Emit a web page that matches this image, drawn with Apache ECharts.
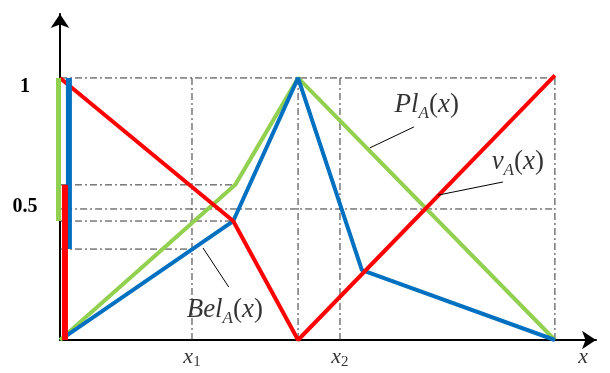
<!DOCTYPE html>
<html>
<head>
<meta charset="utf-8">
<script src="https://cdn.jsdelivr.net/npm/echarts@6/dist/echarts.min.js"></script>
<style>
  html, body { margin: 0; background: #fff; }
  #chart { width: 610px; height: 373px; }
</style>
</head>
<body>
<div id="chart"></div>
<script>
// curves, x in arbitrary units (right end = 10), y in [0, 1]
var greenLine = [[0, 0], [3.54, 0.592], [4.81, 1.0], [10, 0]]
var blueLine = [[0.08, 0.01], [3.5, 0.454], [4.81, 1.0], [6.1, 0.267], [10, 0]]
var redLine = [[0, 1], [3.5, 0.454], [4.81, 0], [10, 1.01]]
// interval bars at x = 0
var greenBar = [[-0.05, 1], [-0.05, 0.454]]
var blueBar = [[0.18, 1], [0.18, 0.347]]
var redBar = [[0.1, 0.592], [0.1, 0]]
// dash-dot guides: [xFrom, xTo, y] and [x, yFrom, yTo]
var guideH = [[0, 2.667, 0.347], [0, 3.5, 0.454], [-0.2, 10, 0.5], [0, 3.54, 0.592], [0, 10, 1.0]]
var guideV = [[2.667, 0, 1.0], [4.81, 0, 1.0], [5.657, 0, 1.0], [10, 0, 1.01]]
// annotations
var noteNames = ['Pl', 'ν', 'Bel']
var notePos = [[7.41, 0.897], [9.25, 0.679], [3.33, 0.115]]
var leaders = [[[7.15, 0.813], [6.26, 0.733]], [[8.95, 0.603], [7.64, 0.553]], [[3.41, 0.202], [2.89, 0.351]]]
var xNames = ['1', '2', '']
var xNamePos = [[2.667, -0.065], [5.657, -0.065], [10.57, -0.065]]
var yLabels = { '0.5': '{h|0.5}', '1': '{one|1}' }

var serif = 'Liberation Serif'
var dashDot = [7, 3, 2, 3]

function seg (points, color, width, type) {
  return {
    type: 'line',
    data: points,
    symbol: 'none',
    clip: false,
    silent: true,
    z: 3,
    lineStyle: { color: color, width: width, type: type || 'solid', cap: 'butt' }
  }
}

var rich = {
  i: { fontFamily: serif, fontStyle: 'italic', fontSize: 27, lineHeight: 34, color: '#000' },
  n: { fontFamily: serif, fontSize: 27, lineHeight: 34, color: '#000' },
  s: { fontFamily: serif, fontStyle: 'italic', fontSize: 17, lineHeight: 34, verticalAlign: 'bottom', color: '#000' },
  xi: { fontFamily: serif, fontStyle: 'italic', fontSize: 22, lineHeight: 26, color: '#000' },
  xs: { fontFamily: serif, fontSize: 15, lineHeight: 26, verticalAlign: 'bottom', color: '#000' }
}

var series = []
guideH.forEach(function (g) {
  series.push(seg([[g[0], g[2]], [g[1], g[2]]], '#333', 1, dashDot))
})
guideV.forEach(function (g) {
  series.push(seg([[g[0], g[1]], [g[0], g[2]]], '#333', 1, dashDot))
})
series.push(seg(greenLine, '#92d050', 4))
series.push(seg(blueLine, '#0070c0', 4))
series.push(seg(redLine, '#ff0000', 4))
series.push(seg(greenBar, '#92d050', 7))
series.push(seg(blueBar, '#0070c0', 6))
series.push(seg(redBar, '#ff0000', 6))
leaders.forEach(function (l) {
  series.push(seg(l, '#000', 1))
})

var labelData = []
noteNames.forEach(function (name, k) {
  labelData.push({
    value: notePos[k],
    label: { formatter: '{i|' + name + '}{s|A}{n|(}{i|x}{n|)}' }
  })
})
xNames.forEach(function (sub, k) {
  labelData.push({
    value: xNamePos[k],
    label: { formatter: sub ? '{xi|x}{xs|' + sub + '}' : '{xi|x}' }
  })
})
series.push({
  type: 'scatter',
  data: labelData,
  symbolSize: 1,
  clip: false,
  silent: true,
  itemStyle: { color: 'transparent' },
  label: { show: true, position: 'inside', align: 'center', verticalAlign: 'middle', rich: rich }
})

var myChart = echarts.init(document.getElementById('chart'))
var option = {
  animation: false,
  backgroundColor: '#fff',
  grid: { left: 60, right: 14, top: 14, bottom: 33 },
  xAxis: {
    type: 'value',
    min: 0,
    max: 10.83,
    axisLine: { lineStyle: { color: '#000', width: 2 }, symbol: ['none', 'arrow'], symbolSize: [14, 14] },
    axisTick: { show: false },
    axisLabel: { show: false },
    splitLine: { show: false }
  },
  yAxis: {
    type: 'value',
    min: 0,
    max: 1.244,
    interval: 0.5,
    axisLine: { lineStyle: { color: '#000', width: 2 }, symbol: ['none', 'arrow'], symbolSize: [14, 14] },
    axisTick: { show: false },
    axisLabel: {
      margin: 35,
      align: 'center',
      color: '#000',
      rich: {
        one: { fontFamily: serif, fontWeight: 'bold', fontSize: 20, color: '#000', padding: [18, 0, 0, 0] },
        h: { fontFamily: serif, fontWeight: 'bold', fontSize: 20, color: '#000', padding: [0, 0, 4, 0] }
      },
      formatter: function (v) { return yLabels[String(v)] || '' }
    },
    splitLine: { show: false }
  },
  series: series
}
myChart.setOption(option)
</script>
</body>
</html>
